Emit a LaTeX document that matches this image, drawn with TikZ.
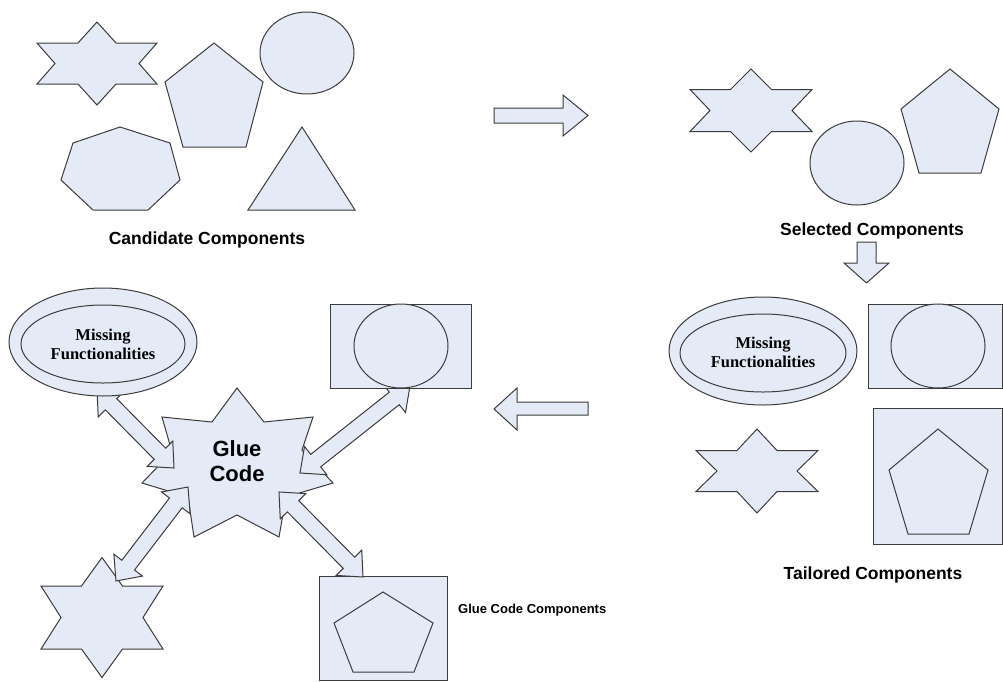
\documentclass[tikz,border=0pt]{standalone}
\usepackage{fontspec}
\setmainfont{Liberation Sans}
\newfontfamily\timesfont{Liberation Serif}
\usetikzlibrary{calc}
\definecolor{shapefill}{RGB}{228,234,246}
\definecolor{shapeline}{RGB}{60,60,60}
\tikzset{
  comp/.style={draw=shapeline, fill=shapefill, line width=1pt, line join=miter},
  blockarrow/.style={comp, line join=miter},
  caption/.style={font=\bfseries\fontsize{17.5}{20}\selectfont, inner sep=0pt},
  smallcaption/.style={font=\bfseries\fontsize{13}{16}\selectfont, inner sep=0pt},
  missing/.style={font=\timesfont\bfseries\fontsize{16.5}{19}\selectfont, align=center, inner sep=0pt},
  gluetext/.style={font=\bfseries\fontsize{22}{25}\selectfont, align=center, inner sep=0pt}
}
% six-pointed star: centre x, centre y, tip height, side height, side width, inner x on the side lines, inner x of the waist
\newcommand{\hexagram}[7]{%
  \draw[comp] ({#1},{#2-#3}) -- ({#1+#6},{#2-#4}) -- ({#1+#5},{#2-#4}) -- ({#1+#7},{#2})
    -- ({#1+#5},{#2+#4}) -- ({#1+#6},{#2+#4}) -- ({#1},{#2+#3}) -- ({#1-#6},{#2+#4})
    -- ({#1-#5},{#2+#4}) -- ({#1-#7},{#2}) -- ({#1-#5},{#2-#4}) -- ({#1-#6},{#2-#4}) -- cycle;}
% two-headed block arrow between two named points
\newcommand{\linkarrow}[3]{%
  \coordinate (#1a) at ($(#2)!20pt!(#3)$);
  \coordinate (#1b) at ($(#3)!20pt!(#2)$);
  \draw[blockarrow] (#2) -- ($(#1a)!18pt!90:(#3)$) -- ($(#1a)!8pt!90:(#3)$)
    -- ($(#1b)!8pt!-90:(#2)$) -- ($(#1b)!18pt!-90:(#2)$) -- (#3)
    -- ($(#1b)!18pt!90:(#2)$) -- ($(#1b)!8pt!90:(#2)$)
    -- ($(#1a)!8pt!-90:(#3)$) -- ($(#1a)!18pt!-90:(#3)$) -- cycle;}
\begin{document}
\begin{tikzpicture}[x=1pt,y=-1pt]
\useasboundingbox[fill=white] (0,0) rectangle (1003,681);

% ---------- candidate components ----------
\hexagram{97}{63.5}{41.5}{20.5}{60}{19}{42}
\draw[comp] (214,43) -- (263,82) -- (246,147) -- (183,147) -- (165,82) -- cycle;
\draw[comp] (307,53) ellipse [x radius=47pt, y radius=41pt];
\draw[comp] (120,127) -- (170,143) -- (180,180) -- (148,210) -- (93,210) -- (61,180) -- (73,143) -- cycle;
\draw[comp] (302,127) -- (355,210) -- (248,210) -- cycle;
\node[caption] (candlbl) at (207,240) {Candidate Components};

% ---------- step arrow: candidate to selected ----------
\draw[blockarrow] (494,108) -- (563,108) -- (563,95) -- (588,115.5) -- (563,136) -- (563,123) -- (494,123) -- cycle;

% ---------- selected components ----------
\hexagram{751}{110.5}{41.5}{21}{61}{20.5}{41}
\draw[comp] (857,163) ellipse [x radius=47pt, y radius=42pt];
\draw[comp] (950,69) -- (999,109) -- (981,173) -- (919,173) -- (901,109) -- cycle;
\node[caption] (sellbl) at (872,231) {Selected Components};

% ---------- step arrow: selected to tailored ----------
\draw[blockarrow] (857,242) -- (876,242) -- (876,263) -- (889,263) -- (866.5,283) -- (844,263) -- (857,263) -- cycle;

% ---------- tailored components ----------
\draw[comp] (763,351) ellipse [x radius=94pt, y radius=54pt];
\draw[comp] (763,353) ellipse [x radius=83pt, y radius=39pt];
\node[missing] (tmiss) at (763,352) {Missing\\Functionalities};
\draw[comp] (868,304) rectangle (1002,388);
\draw[comp] (938,346) ellipse [x radius=47pt, y radius=42pt];
\hexagram{757}{471}{42}{20.5}{61}{20}{40}
\draw[comp] (873,408) rectangle (1002,544);
\draw[comp] (938,429) -- (988,470) -- (969,534) -- (908,534) -- (889,470) -- cycle;
\node[caption] (taillbl) at (873,575) {Tailored Components};

% ---------- step arrow: tailored to glue code ----------
\draw[blockarrow] (588,402) -- (517,402) -- (517,388) -- (494,409) -- (517,430) -- (517,415) -- (588,415) -- cycle;

% ---------- glue code components ----------
\hexagram{102}{617.5}{60}{31.5}{61}{20.5}{41}
\draw[comp] (319,576) rectangle (447,680);
\draw[comp] (383,592) -- (433,623) -- (414,672) -- (353,672) -- (334,623) -- cycle;

% glue code star
\draw[comp] (237,388) -- (264,422) -- (313,417) -- (302,450) -- (333,483) -- (286,497)
  -- (279,537) -- (237,515) -- (194,537) -- (188,497) -- (142,483) -- (172,452)
  -- (162,417) -- (212,422) -- cycle;
\node[gluetext] (glue) at (237,461) {Glue\\Code};

% two-headed links between the glue code and the components
\coordinate (missA) at (97,390);
\coordinate (glueA) at (174,468);
\coordinate (circB) at (410,386);
\coordinate (glueB) at (300,473);
\coordinate (glueC) at (188,487);
\coordinate (starC) at (116,581);
\coordinate (glueD) at (279,492);
\coordinate (pentD) at (363,577);
\linkarrow{lA}{missA}{glueA}
\linkarrow{lB}{circB}{glueB}
\linkarrow{lC}{glueC}{starC}
\linkarrow{lD}{glueD}{pentD}

\draw[comp] (103,342) ellipse [x radius=94pt, y radius=54pt];
\draw[comp] (103,344) ellipse [x radius=82pt, y radius=39pt];
\node[missing] (gmiss) at (103,344.5) {Missing\\Functionalities};
\draw[comp] (330,304) rectangle (471,388);
\draw[comp] (401,346) ellipse [x radius=47pt, y radius=42pt];

\node[smallcaption, anchor=west] (gluelbl) at (458,610) {Glue Code Components};
\end{tikzpicture}
\end{document}
